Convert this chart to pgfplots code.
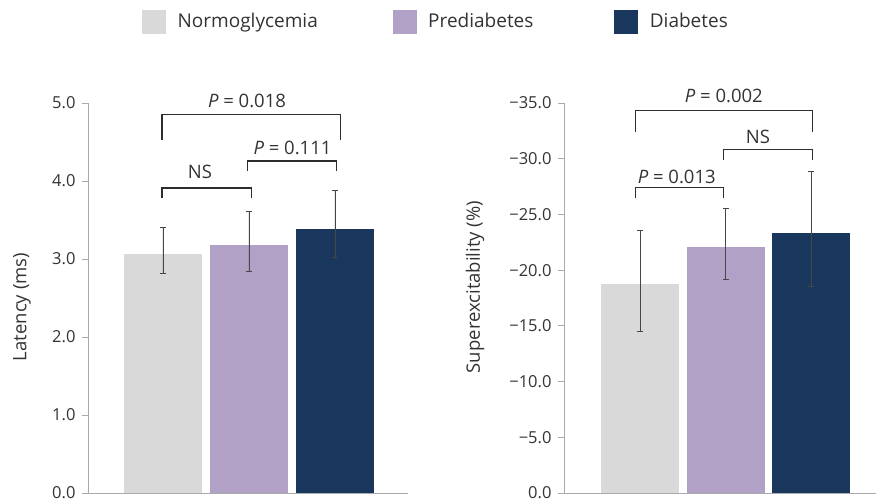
\documentclass[border=0pt]{standalone}
\usepackage{pgfplots}
\pgfplotsset{compat=1.18}
\usepackage{fontspec}
\setmainfont{Open Sans}
\definecolor{normo}{RGB}{217,217,217}
\definecolor{pre}{RGB}{177,161,199}
\definecolor{dia}{RGB}{25,54,92}
\definecolor{axisgray}{RGB}{170,170,170}
\definecolor{txt}{RGB}{51,51,51}
\definecolor{errc}{RGB}{70,70,70}
\definecolor{brk}{RGB}{45,45,45}
\tikzset{mylab/.style={font=\fontsize{18.5}{22}\selectfont, text=txt, anchor=center, inner sep=0pt}}
\pgfplotsset{
  mybase/.style={
    scale only axis, clip=false,
    axis x line*=bottom, axis y line*=left,
    axis line style={axisgray, line width=1pt},
    xtick=\empty,
    tick align=outside, major tick length=6pt,
    every tick/.style={axisgray, line width=1pt},
    yticklabel style={font=\fontsize{16.5}{18}\selectfont, text=txt, xshift=-3pt},
    ylabel style={font=\fontsize{18.5}{22}\selectfont, text=txt, anchor=center},
  },
  mybar/.style={ybar, bar shift=0pt, draw=none, forget plot,
    error bars/.cd, y dir=both, y explicit,
    error bar style={errc, line width=0.9pt},
    error mark options={rotate=90, mark size=3pt, errc, line width=0.9pt},
    /pgfplots/.cd},
  mybrk/.style={sharp plot, no marks, brk, line width=1.3pt, forget plot},
}
\begin{document}
\begin{tikzpicture}
\path[use as bounding box] (0,0) rectangle (876pt,-499pt);
\begin{axis}[mybase, at={(88pt,-493pt)}, anchor=south west, width=320pt, height=390pt,
  xmin=-0.872, xmax=2.849, ymin=0, ymax=5,
  ytick={0,1,2,3,4,5}, yticklabels={0.0,1.0,2.0,3.0,4.0,5.0},
  ylabel={Latency (ms)},
  ylabel style={at={(axis description cs:-0.206,0.477)}},
  legend columns=3,
  legend style={at={(axis description cs:0.16875,1.209)}, anchor=west, draw=none, fill=none,
    font=\fontsize{19}{22}\selectfont, text=txt, inner sep=0pt,
    /tikz/every odd column/.append style={column sep=10pt},
    /tikz/column 2/.append style={column sep=73pt},
    /tikz/column 4/.append style={column sep=79pt}},
  legend cell align=left,
]
\addlegendimage{legend image code/.code={\fill[normo] (0pt,-11.5pt) rectangle (23pt,11.5pt);}}
\addlegendentry{Normoglycemia}
\addlegendimage{legend image code/.code={\fill[pre] (0pt,-11.5pt) rectangle (23pt,11.5pt);}}
\addlegendentry{Prediabetes}
\addlegendimage{legend image code/.code={\fill[dia] (0pt,-11.5pt) rectangle (23pt,11.5pt);}}
\addlegendentry{Diabetes}
\addplot[fill=normo, bar width=0.907, mybar] coordinates {(0,3.06) += (0,0.34) -= (0,0.24)};
\addplot[fill=pre, bar width=0.907, mybar] coordinates {(1,3.18) += (0,0.43) -= (0,0.34)};
\addplot[fill=dia, bar width=0.907, mybar] coordinates {(2,3.39) += (0,0.49) -= (0,0.37)};
\addplot[mybrk] coordinates {(-0.01,4.53) (-0.01,4.85) (2.06,4.85) (2.06,4.53)};
\addplot[mybrk] coordinates {(0.985,4.13) (0.985,4.256) (2.02,4.256) (2.02,4.13)};
\addplot[mybrk] coordinates {(-0.01,3.78) (-0.01,3.91) (1.03,3.91) (1.03,3.78)};
\node[mylab] at (axis cs:0.977,5.03) {\textit{P} = 0.018};
\node[mylab] at (axis cs:1.506,4.42) {\textit{P} = 0.111};
\node[mylab] at (axis cs:0.43,4.12) {NS};
\end{axis}
\begin{axis}[mybase, at={(564pt,-493pt)}, anchor=south west, width=312pt, height=390pt,
  xmin=-0.889, xmax=2.76, ymin=-35, ymax=0, y dir=reverse,
  ytick={0,-5,-10,-15,-20,-25,-30,-35},
  yticklabels={0.0,−5.0,−10.0,−15.0,−20.0,−25.0,−30.0,−35.0},
  ylabel={Superexcitability (\%)},
  ylabel style={at={(axis description cs:-0.285,0.528)}},
]
\addplot[fill=normo, bar width=0.912, mybar] coordinates {(0,-18.8) += (0,4.3) -= (0,4.8)};
\addplot[fill=pre, bar width=0.912, mybar] coordinates {(1,-22.05) += (0,2.85) -= (0,3.5)};
\addplot[fill=dia, bar width=0.912, mybar] coordinates {(2,-23.3) += (0,4.75) -= (0,5.6)};
\addplot[mybrk] coordinates {(-0.05,-32.4) (-0.05,-34.3) (2.02,-34.3) (2.02,-32.4)};
\addplot[mybrk] coordinates {(0.98,-29.9) (0.98,-30.85) (2.02,-30.85) (2.02,-29.9)};
\addplot[mybrk] coordinates {(-0.05,-26.45) (-0.05,-27.4) (0.98,-27.4) (0.98,-26.45)};
\node[mylab] at (axis cs:0.98,-35.6) {\textit{P} = 0.002};
\node[mylab] at (axis cs:1.38,-31.95) {NS};
\node[mylab] at (axis cs:0.43,-28.4) {\textit{P} = 0.013};
\end{axis}
\end{tikzpicture}
\end{document}
